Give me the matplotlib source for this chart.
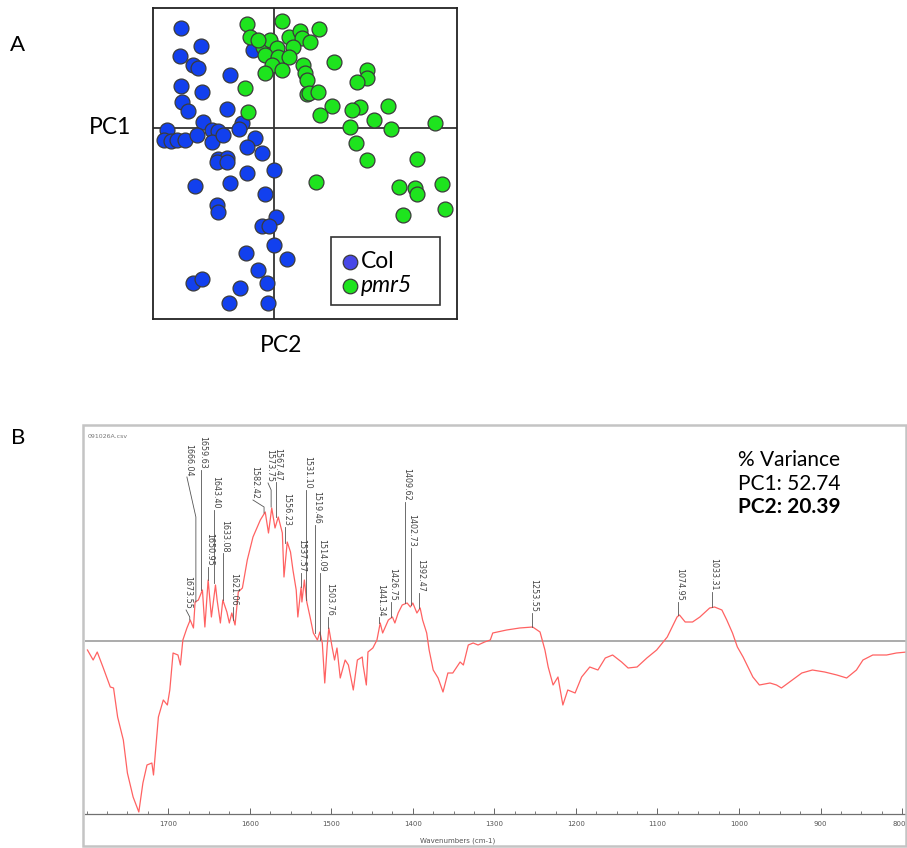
import matplotlib
matplotlib.use('Agg')
import matplotlib.pyplot as plt
from matplotlib.patches import Rectangle
from matplotlib.ticker import MultipleLocator
import matplotlib.transforms as mtransforms

# ---------------- data: panel A (PCA scores) ----------------
col_pc2 = [-9.3, -7.3, -9.4, -8.1, -7.6, -4.4, -9.3, -7.2, -9.2, -8.6, -4.7, -7.1, -3.2, -3.5,
           -6.2, -5.6, -10.7, -11.0, -10.3, -9.7, -8.9, -7.7, -6.2, -5.1, -1.9, -2.7, -1.2, -5.6,
           -4.7, -2.1, -5.7, -4.7, -2.7, 0.0, -7.9, -4.4, -0.9, -5.7, -5.6, 0.2, -1.2, -0.5, 0.0,
           -2.8, 1.3, -1.6, -8.1, -7.2, -0.7, -3.4, -4.5, -0.6]
col_pc1 = [10.0, 8.2, 7.2, 6.3, 6.0, 5.3, 4.2, 3.6, 2.6, 1.7, 1.9, 0.6, 0.5, -0.1,
           -0.2, -0.3, -0.2, -1.2, -1.3, -1.2, -1.2, -0.7, -1.4, -0.7, -1.0, -1.9, -2.5, -3.1,
           -3.0, 7.8, -3.4, -3.4, -4.5, -4.2, -5.8, -5.5, -6.6, -7.7, -8.4, -8.9, -9.8, -9.8, -11.7,
           -12.5, -13.1, -14.2, -15.5, -15.1, -15.5, -16.0, -17.5, -17.5]

pmr5_pc2 = [-2.7, 0.8, -2.4, -1.1, -0.4, 1.5, 2.6, 2.8, 1.9, 0.3, -0.9, 0.4, 1.5, -0.2, 0.8,
            -0.9, 2.9, 3.1, 3.3, 3.3, -2.9, -2.6, 4.5, 3.6, 6.0, 3.5, 4.4, 9.3, 9.3, 8.3, 5.8,
            4.6, 8.6, 7.8, 11.4, 10.0, 7.6, 11.7, 16.1, 8.2, 9.3, 14.3, 4.2, 12.5, 14.1, 14.3,
            16.8, 12.9, 17.1, -1.6]
pmr5_pc1 = [10.4, 10.7, 9.1, 8.1, 8.8, 9.1, 9.7, 9.0, 8.1, 8.0, 7.3, 7.1, 7.1, 6.3, 5.8,
            5.5, 6.3, 5.5, 4.8, 3.4, 4.0, 1.6, 9.9, 8.6, 6.6, 3.5, 3.6, 5.8, 5.0, 4.6, 2.2,
            1.3, 2.1, 1.8, 2.2, 0.8, 0.1, -0.1, 0.5, -1.5, -3.2, -3.1, -5.4, -5.9, -6.0, -6.6,
            -5.6, -8.7, -8.1, 8.8]

group_labels = ["Col", "pmr5"]

# ---------------- data: panel B (PC2 loading spectrum) ----------------
wavenumber = [1799, 1792, 1787, 1780, 1771, 1767, 1762, 1755, 1750, 1743, 1736, 1731, 1726, 1720,
              1718, 1712, 1706, 1701, 1698, 1694, 1688, 1685, 1682, 1677, 1673, 1669, 1667, 1663,
              1658, 1655, 1651, 1647, 1642, 1640, 1636, 1633, 1628, 1625, 1622, 1618, 1614, 1609,
              1603, 1596, 1587, 1581, 1577, 1573, 1569, 1565, 1560, 1558, 1554, 1550, 1547, 1543,
              1541, 1537, 1536, 1533, 1530, 1526, 1522, 1517, 1514, 1511, 1508, 1505, 1503, 1499,
              1496, 1493, 1489, 1483, 1479, 1473, 1468, 1462, 1461, 1457, 1455, 1449, 1444, 1440,
              1437, 1430, 1425, 1422, 1418, 1413, 1407, 1403, 1400, 1395, 1391, 1388, 1383, 1380,
              1375, 1369, 1363, 1357, 1351, 1342, 1338, 1332, 1326, 1320, 1312, 1305, 1302, 1285,
              1269, 1253, 1244, 1238, 1234, 1228, 1222, 1216, 1210, 1201, 1193, 1183, 1173, 1164,
              1155, 1144, 1136, 1125, 1113, 1101, 1088, 1076, 1073, 1066, 1057, 1048, 1036, 1030,
              1021, 1015, 1008, 1002, 995, 983, 975, 962, 954, 948, 938, 923, 910, 895, 880, 868,
              856, 848, 836, 819, 807, 794]
loading = [-9, -19, -11, -26, -46, -47, -76, -99, -132, -156, -171, -142, -124, -122,
           -134, -76, -59, -64, -49, -12, -14, -24, 1, 13, 21, 13, 39, 41,
           51, 14, 61, 24, 56, 41, 18, 41, 29, 18, 28, 16, 49, 53,
           81, 104, 121, 129, 108, 133, 113, 124, 108, 64, 99, 89, 71, 51,
           24, 54, 39, 61, 39, 24, 8, 1, 9, -2, -42, -5, 13, -6,
           -19, -7, -37, -19, -24, -49, -19, -16, -24, -44, -11, -7, 1, 18,
           8, 21, 24, 18, 28, 36, 38, 34, 38, 28, 33, 21, 8, -9,
           -29, -37, -51, -32, -32, -21, -24, -4, -2, -4, -1, 1, 8, 11,
           13, 14, 9, -9, -26, -44, -36, -64, -49, -52, -36, -26, -29, -17,
           -14, -21, -27, -26, -17, -9, 4, 24, 26, 19, 19, 24, 33, 34,
           31, 21, 8, -6, -16, -36, -44, -42, -44, -47, -41, -32, -29, -31, -34, -37,
           -29, -19, -14, -14, -12, -11]

peak_wn = [1673.55, 1666.04, 1659.63, 1650.95, 1643.40, 1633.08, 1621.06, 1582.42, 1573.75,
           1567.47, 1556.23, 1537.57, 1531.10, 1519.46, 1514.09, 1503.76, 1441.34, 1426.75,
           1409.62, 1402.73, 1392.47, 1253.55, 1074.95, 1033.31]
peak_val = [21, 39, 51, 61, 58, 41, 21, 128, 134, 124, 98, 54, 41, 8, 1, 13, 18, 24,
            38, 36, 33, 14, 26, 34]

tick_vals = [1700, 1600, 1500, 1400, 1300, 1200, 1100, 1000, 900, 800]
tick_labels = ["1700", "1600", "1500", "1400", "1300", "1200", "1100", "1000", "900", "800"]
variance_lines = ["% Variance", "PC1: 52.74", "PC2: 20.39"]

# ---------------- layout of peak leader lines (annotation layout) ----------------
leader_knee = [24, 124, 171, 74, 131, 88, 34, 134, 151, 159, 114, 68, 151, 116, 68, 24, 24, 39,
               139, 93, 48, 28, 39, 49]
leader_top = [31, 164, 171, 74, 131, 88, 34, 141, 158, 159, 114, 68, 151, 116, 68, 24, 24, 39,
              139, 93, 48, 28, 39, 49]
leader_shift = [4.5, 11, 0, 0, 0, 0, 0, 13.6, 3.8, 0, 0, 0, 0, 0, 0, 0, 0, 0,
                0, 0, 0, 0, 0, 0]

W, H = 907, 848
fig = plt.figure(figsize=(W / 100, H / 100), dpi=100)
fig.patch.set_facecolor('white')


def fx(px):
    return px / W


def fy(py):
    return 1 - py / H


FONT = ['Lato', 'DejaVu Sans']

# ================= Panel A =================
axA = fig.add_axes([fx(153), fy(319), fx(457) - fx(153), fy(8) - fy(319)])
axA.set_xlim(-12.1, 18.3)
axA.set_ylim(-19.1, 12.0)
axA.axvline(0, color='#333333', lw=1.3, zorder=1)
axA.axhline(0, color='#333333', lw=1.3, zorder=1)
axA.scatter(col_pc2, col_pc1, s=115, c='#1240ee', edgecolors='#3a3a3a', linewidths=0.9, zorder=3)
axA.scatter(pmr5_pc2, pmr5_pc1, s=115, c='#1ee41e', edgecolors='#3a3a3a', linewidths=0.9, zorder=4)
axA.set_xticks([])
axA.set_yticks([])
for sp in axA.spines.values():
    sp.set_color('#222222')
    sp.set_linewidth(1.3)


def ax_x(px):
    return (px - 153) / 304


def ax_y(py):
    return 1 - (py - 8) / 311


axA.add_patch(Rectangle((ax_x(331), ax_y(305)), ax_x(440) - ax_x(331), ax_y(237) - ax_y(305),
                        transform=axA.transAxes, facecolor='white', edgecolor='#333333',
                        lw=1.2, zorder=6))
axA.scatter([ax_x(350)], [ax_y(262)], s=110, c='#4848e8', edgecolors='#3a3a3a', linewidths=0.9,
            transform=axA.transAxes, zorder=7, clip_on=False)
axA.scatter([ax_x(350)], [ax_y(286)], s=110, c='#1ee41e', edgecolors='#3a3a3a', linewidths=0.9,
            transform=axA.transAxes, zorder=7, clip_on=False)
axA.text(ax_x(361), ax_y(262), group_labels[0], transform=axA.transAxes, fontsize=16.5,
         family=FONT, va='center', ha='left', zorder=8)
axA.text(ax_x(361), ax_y(286), group_labels[1], transform=axA.transAxes, fontsize=16.5,
         family=FONT, style='italic', va='center', ha='left', zorder=8)

fig.text(fx(18), fy(45), "A", fontsize=16, family=FONT, ha='center', va='center')
fig.text(fx(110), fy(128), "PC1", fontsize=16.5, family=FONT, ha='center', va='center')
fig.text(fx(281), fy(346), "PC2", fontsize=16.5, family=FONT, ha='center', va='center')

# ================= Panel B =================
fig.text(fx(18), fy(438), "B", fontsize=16, family=FONT, ha='center', va='center')

frame = Rectangle((fx(83), fy(846)), fx(906) - fx(83), fy(425) - fy(846),
                  transform=fig.transFigure, facecolor='none', edgecolor='#c4c4c4', lw=1.8)
fig.patches.append(frame)

axB = fig.add_axes([fx(85), fy(814), fx(907) - fx(85), fy(425) - fy(814)])
axB.set_xlim(1802, 794)
axB.set_ylim(-173, 216)
axB.axhline(0, color='#ababab', lw=1.4, zorder=1)
axB.plot(wavenumber, loading, color='#ff6262', lw=0.9, zorder=3)

axB.set_xticks(tick_vals, tick_labels)
axB.xaxis.set_minor_locator(MultipleLocator(25))
axB.tick_params(axis='x', which='major', direction='in', length=4, width=0.7, color='#666666',
                labelsize=5, labelcolor='#555555', pad=5)
axB.tick_params(axis='x', which='minor', direction='in', length=2.5, width=0.6, color='#666666')
last_lbl = axB.get_xticklabels()[-1]
last_lbl.set_horizontalalignment('right')
last_lbl.set_transform(last_lbl.get_transform() +
                       mtransforms.ScaledTranslation(4 / 100, 0, fig.dpi_scale_trans))
axB.set_yticks([])
for name, sp in axB.spines.items():
    sp.set_visible(False)
axB.spines['bottom'].set_visible(True)
axB.spines['bottom'].set_color('#707070')
axB.spines['bottom'].set_linewidth(0.9)
axB.set_xlabel("Wavenumbers (cm-1)", fontsize=5, color='#555555', labelpad=3)
axB.xaxis.set_label_coords((458 - 85) / 822, -(837 - 814) / 389)

fig.text(fx(88), fy(437), "091026A.csv", fontsize=4.5, color='#777777', ha='left', va='center')

# peak leaders and labels
txt_off = mtransforms.offset_copy(axB.transData, fig=fig, x=1.5, y=1.0, units='dots')
for wn, base, knee, top, shift in zip(peak_wn, peak_val, leader_knee, leader_top, leader_shift):
    xs = [wn, wn, wn + shift]
    ys = [base, knee, top]
    axB.plot(xs, ys, color='#555555', lw=0.6, zorder=4)
    axB.text(wn + shift, top, f"{wn:.2f}", transform=txt_off, rotation=270, fontsize=5.8,
             color='#444444', ha='center', va='bottom', zorder=5)

# variance text
fig.text(fx(738), fy(460), variance_lines[0], fontsize=15, family=FONT, ha='left', va='center')
fig.text(fx(738), fy(484), variance_lines[1], fontsize=15, family=FONT, ha='left', va='center')
fig.text(fx(738), fy(507), variance_lines[2], fontsize=15, family=FONT, weight='bold',
         ha='left', va='center')

fig.savefig('out.png', dpi=100, facecolor='white')
